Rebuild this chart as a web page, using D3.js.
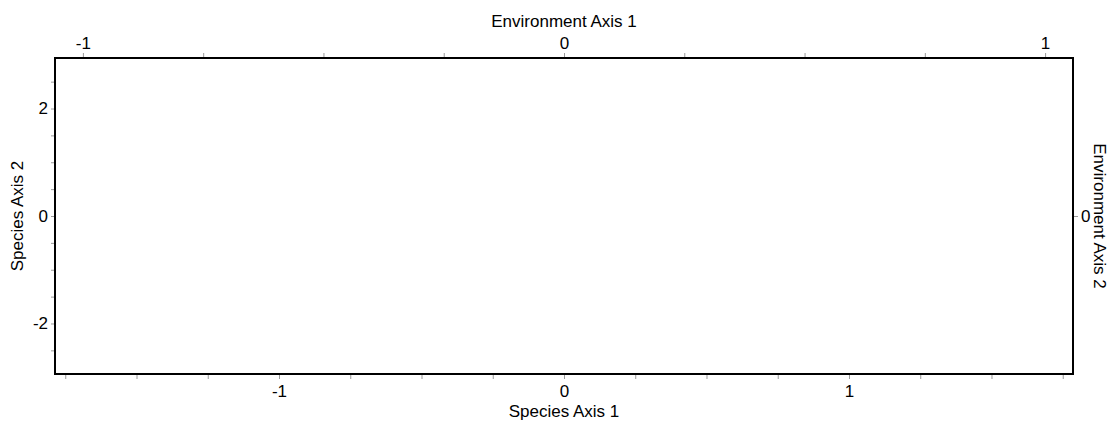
<!DOCTYPE html>
<html>
<head>
<meta charset="utf-8">
<script src="https://cdn.jsdelivr.net/npm/d3@7"></script>
<style>
  html, body { margin: 0; padding: 0; background: #fff; }
  svg text { font-family: "Liberation Sans", Arial, sans-serif; font-size: 17px; fill: #000; }
</style>
</head>
<body>
<svg id="chart" width="1115" height="421"></svg>
<script>
// Axis extents (ordination biplot, no points plotted)
const speciesXDomain = [-1.786, 1.786];
const speciesYDomain = [-2.94, 2.94];
const envXDomain = [-1.058, 1.058];
const envYDomain = [-2.94, 2.94];

// Tick positions and which of them carry labels
const speciesXTicks = [-1.75, -1.5, -1.25, -1, -0.75, -0.5, -0.25, 0, 0.25, 0.5, 0.75, 1, 1.25, 1.5, 1.75];
const speciesXLabels = [-1, 0, 1];
const speciesYTicks = [-2.5, -2, -1.5, -1, -0.5, 0, 0.5, 1, 1.5, 2, 2.5];
const speciesYLabels = [-2, 0, 2];
const envXTicks = [-1, -0.75, -0.5, -0.25, 0, 0.25, 0.5, 0.75, 1];
const envXLabels = [-1, 0, 1];
const envYTicks = [0];
const envYLabels = [0];

const axisTitles = {
  bottom: "Species Axis 1",
  left: "Species Axis 2",
  top: "Environment Axis 1",
  right: "Environment Axis 2"
};

const svg = d3.select("#chart");
const box = { left: 55, top: 58, right: 1073, bottom: 374 };

const x = d3.scaleLinear().domain(speciesXDomain).range([box.left, box.right]);
const y = d3.scaleLinear().domain(speciesYDomain).range([box.bottom, box.top]);
const x2 = d3.scaleLinear().domain(envXDomain).range([box.left, box.right]);
const y2 = d3.scaleLinear().domain(envYDomain).range([box.bottom, box.top]);

// Plain hyphen-minus labels, only on the labelled ticks
const fmt = labels => d => labels.includes(d) ? String(d) : "";

function styleAxis(g) {
  g.select(".domain").remove();
  g.selectAll(".tick line").attr("stroke", "#9a9a9a").attr("stroke-width", 1);
  g.selectAll(".tick text").attr("fill", "#000").style("font-size", "17px")
    .style("font-family", '"Liberation Sans", Arial, sans-serif');
}

svg.append("g")
  .attr("transform", `translate(0,${box.bottom})`)
  .call(d3.axisBottom(x).tickValues(speciesXTicks).tickFormat(fmt(speciesXLabels)).tickSize(5).tickPadding(6))
  .call(styleAxis);

svg.append("g")
  .attr("transform", `translate(${box.left},0)`)
  .call(d3.axisLeft(y).tickValues(speciesYTicks).tickFormat(fmt(speciesYLabels)).tickSize(4).tickPadding(3))
  .call(styleAxis);

svg.append("g")
  .attr("transform", `translate(0,${box.top})`)
  .call(d3.axisTop(x2).tickValues(envXTicks).tickFormat(fmt(envXLabels)).tickSize(5).tickPadding(4))
  .call(styleAxis);

svg.append("g")
  .attr("transform", `translate(${box.right},0)`)
  .call(d3.axisRight(y2).tickValues(envYTicks).tickFormat(fmt(envYLabels)).tickSize(5).tickPadding(3))
  .call(styleAxis);

// Frame
svg.append("rect")
  .attr("x", box.left).attr("y", box.top)
  .attr("width", box.right - box.left).attr("height", box.bottom - box.top)
  .attr("fill", "none").attr("stroke", "#000").attr("stroke-width", 2);

// Axis titles
const cx = (box.left + box.right) / 2;
const cy = (box.top + box.bottom) / 2;
svg.append("text").attr("x", cx).attr("y", 417).attr("text-anchor", "middle").text(axisTitles.bottom);
svg.append("text").attr("x", cx).attr("y", 27).attr("text-anchor", "middle").text(axisTitles.top);
svg.append("text").attr("transform", `translate(23,${cy}) rotate(-90)`).attr("text-anchor", "middle").text(axisTitles.left);
svg.append("text").attr("transform", `translate(1094,${cy}) rotate(90)`).attr("text-anchor", "middle").text(axisTitles.right);
</script>
</body>
</html>
